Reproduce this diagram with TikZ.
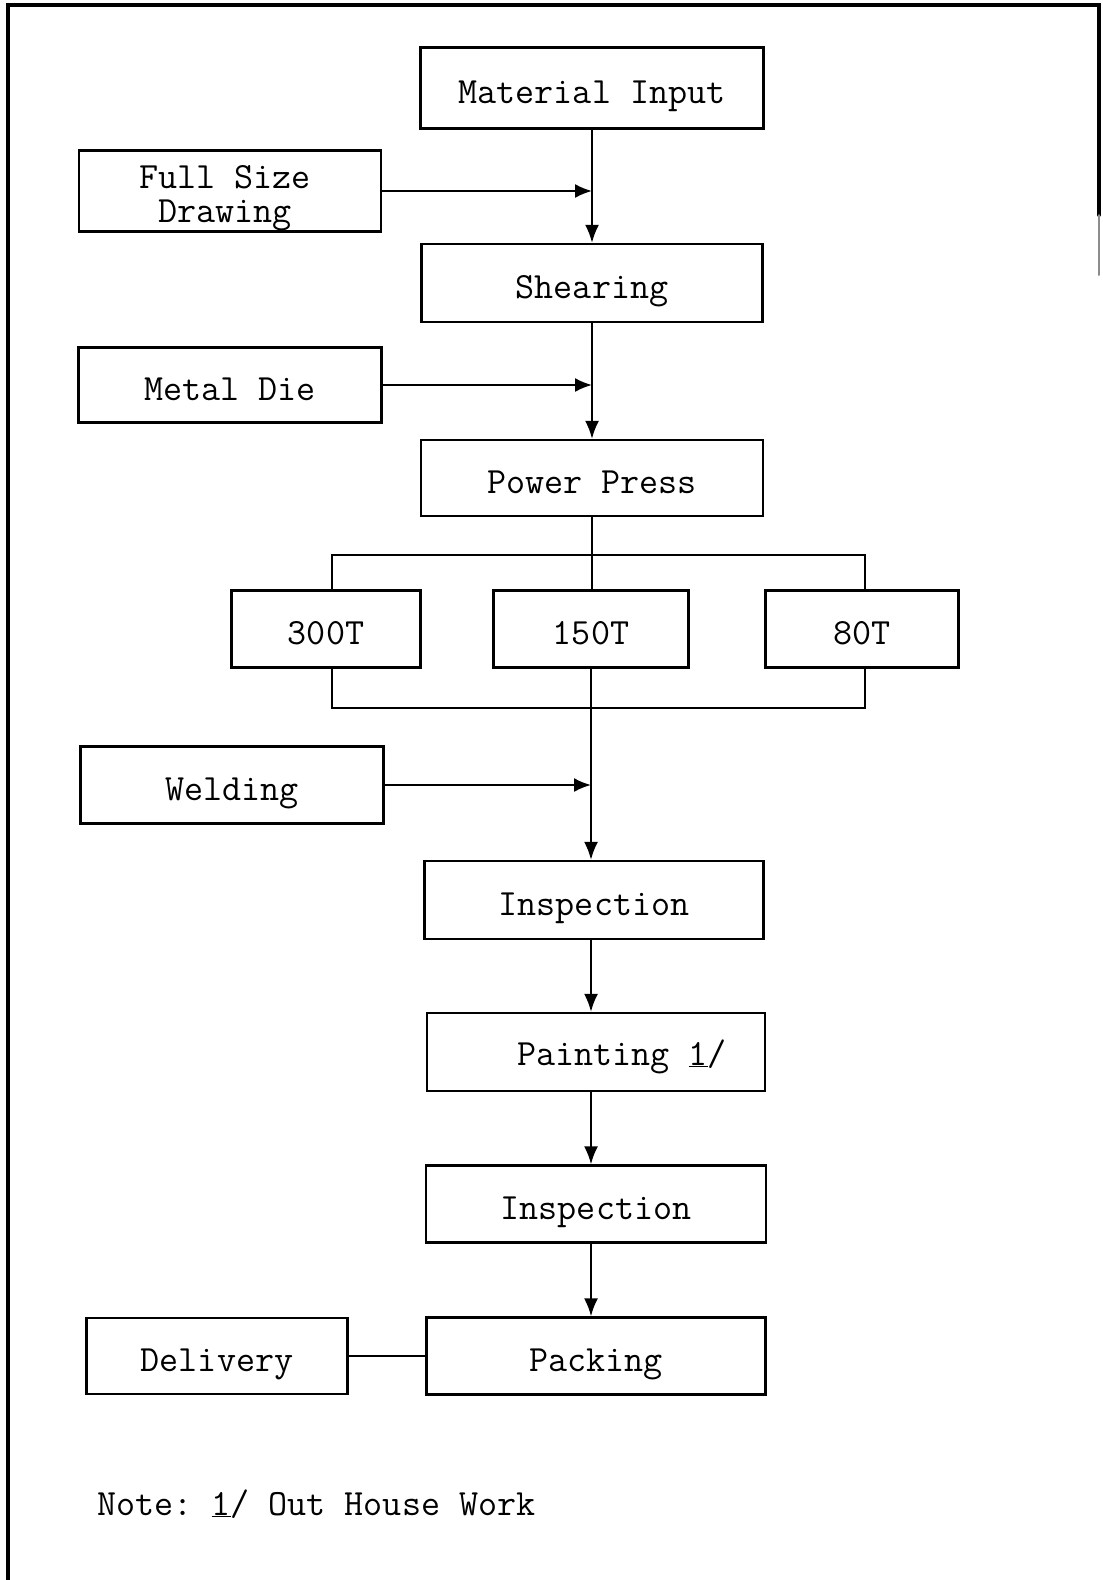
\documentclass[tikz,border=0pt]{standalone}
\usetikzlibrary{arrows.meta,calc}
\begin{document}
\frenchspacing
\begin{tikzpicture}[x=1pt,y=-1pt,
  every node/.style={font=\ttfamily\fontsize{37}{26}\selectfont},
  procbox/.style={draw, line width=2.4pt, inner sep=0pt, align=center,
    text height=33pt, text depth=2pt},
  plainbox/.style={draw, line width=2.4pt, inner sep=0pt},
  boxtext/.style={anchor=base, inner sep=0pt},
  link/.style={line width=2pt},
  flow/.style={link, -{Latex[length=18pt,width=14pt]}},
  feed/.style={link, -{Latex[length=17pt,width=14pt]}},
  frameline/.style={line width=4pt, line cap=round}]
\useasboundingbox (0,0) rectangle (1103,1580);

% outer frame
\draw[frameline] (8,1580) -- (8,5) -- (1099,5) -- (1099,215);
\draw[frameline, black!45, line width=2pt] (1099,215) -- (1099,275);

% main column
\node[procbox, minimum width=343pt, minimum height=81pt] (matin) at (592,88) {Material Input};
\node[procbox, minimum width=341pt, minimum height=78pt] (shear) at (592,283) {Shearing};
\node[procbox, minimum width=342pt, minimum height=76pt] (press) at (592,478) {Power Press};
\node[procbox, minimum width=189pt, minimum height=77pt] (t300) at (326,629) {300T};
\node[procbox, minimum width=195pt, minimum height=77pt] (t150) at (591,629) {150T};
\node[procbox, minimum width=193pt, minimum height=77pt] (t80) at (862,629) {80T};
\node[procbox, minimum width=339pt, minimum height=78pt] (insp) at (594,900) {Inspection};
\node[plainbox, minimum width=338pt, minimum height=78pt] (paint) at (596,1052) {};
\node[boxtext] (paintlbl) at (622,1065) {Painting \underline{1}/};
\node[procbox, minimum width=340pt, minimum height=77pt] (inspb) at (596,1204) {Inspection};
\node[procbox, minimum width=339pt, minimum height=77pt] (pack) at (596,1356) {Packing};

% side inputs
\node[plainbox, minimum width=302pt, minimum height=81pt] (draw) at (230,191) {};
\node[boxtext, text depth=0pt] (drawlbla) at (225,188) {Full Size};
\node[boxtext, text height=22pt] (drawlblb) at (225,222) {Drawing};
\node[procbox, minimum width=303pt, minimum height=75pt] (die) at (230,385) {Metal Die};
\node[procbox, minimum width=303pt, minimum height=77pt] (weld) at (232,785) {Welding};
\node[procbox, minimum width=261pt, minimum height=76pt] (deliv) at (217,1356) {Delivery};

% note
\node[anchor=base west, inner sep=0pt] (note) at (97,1515) {Note: \underline{1}/ Out House Work};

% bracket coordinates
\coordinate (bl) at (332,555);
\coordinate (br) at (865,555);
\coordinate (bbl) at (332,708);
\coordinate (bbr) at (865,708);

% connectors
\draw[flow] (matin.south) -- (shear.north);
\draw[feed] (draw.east) -- (draw.east -| matin.south);
\draw[flow] (shear.south) -- (press.north);
\draw[feed] (die.east) -- (die.east -| shear.south);
\draw[link] (press.south) -- (press.south |- t150.north);
\draw[link] (t300.north -| bl) -- (bl) -- (br) -- (t80.north -| br);
\draw[link] (t300.south -| bbl) -- (bbl) -- (bbr) -- (t80.south -| bbr);
\draw[flow] (t150.south) -- (t150.south |- insp.north);
\draw[feed] (weld.east) -- (weld.east -| t150.south);
\draw[flow] (insp.south -| t150.south) -- (paint.north -| t150.south);
\draw[flow] (paint.south -| t150.south) -- (inspb.north -| t150.south);
\draw[flow] (inspb.south -| t150.south) -- (pack.north -| t150.south);
\draw[link] (deliv.east) -- (pack.west);
\end{tikzpicture}
\end{document}
